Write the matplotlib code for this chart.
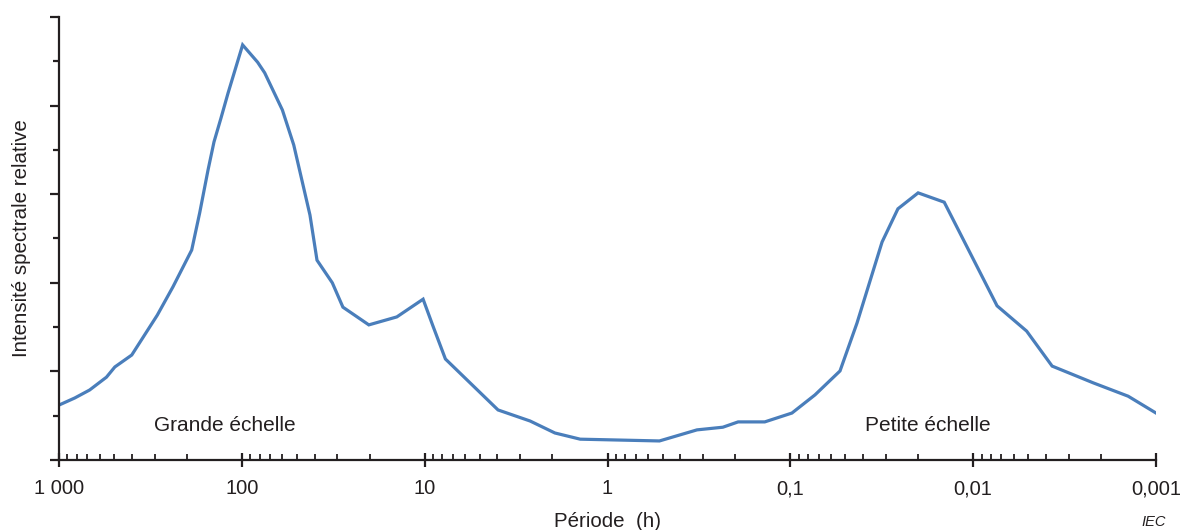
import numpy as np
import matplotlib
matplotlib.use('Agg')
import matplotlib.pyplot as plt
from matplotlib.ticker import FixedLocator, FixedFormatter, LogLocator, NullFormatter, MultipleLocator

plt.rcParams['font.family'] = ['Liberation Sans', 'DejaVu Sans']

# period (h) and relative spectral intensity
period = [1000, 820, 680, 550, 495, 400, 290, 238, 188, 170, 153, 142, 130, 119,
          99, 82, 75, 60, 52, 42.4, 38.8, 32, 28, 20.2, 14.2, 10.2, 9.0, 7.7,
          3.97, 2.65, 1.94, 1.41, 0.52, 0.324, 0.234, 0.193, 0.138, 0.098,
          0.0733, 0.0535, 0.0432, 0.0315, 0.0258, 0.0200, 0.0144, 0.0074,
          0.0051, 0.0037, 0.0022, 0.00142, 0.001]
intensity = [1.24, 1.40, 1.58, 1.87, 2.10, 2.37, 3.27, 3.91, 4.74, 5.58, 6.55, 7.18, 7.72, 8.28,
             9.37, 8.98, 8.74, 7.90, 7.11, 5.53, 4.51, 4.00, 3.45, 3.05, 3.23, 3.63, 3.02, 2.28,
             1.13, 0.88, 0.61, 0.47, 0.43, 0.68, 0.74, 0.86, 0.86, 1.06,
             1.47, 2.01, 3.09, 4.92, 5.67, 6.03, 5.82, 3.48,
             2.91, 2.12, 1.74, 1.44, 1.06]

tick_vals = [1000, 100, 10, 1, 0.1, 0.01, 0.001]
tick_labels = ['1 000', '100', '10', '1', '0,1', '0,01', '0,001']

ink = '#231f20'
blue = '#4a7ebb'

fig = plt.figure(figsize=(11.82, 5.30), dpi=100)
ax = fig.add_axes([59/1182, 70/530, (1156-59)/1182, (460-17)/530])

ax.plot(period, intensity, color=blue, lw=2.3, solid_joinstyle='miter')

ax.set_xscale('log')
ax.set_xlim(1000, 0.001)
ax.set_ylim(0, 10)

ax.xaxis.set_major_locator(FixedLocator(tick_vals))
ax.xaxis.set_major_formatter(FixedFormatter(tick_labels))
ax.xaxis.set_minor_locator(LogLocator(base=10, subs=np.arange(2, 10), numticks=20))
ax.xaxis.set_minor_formatter(NullFormatter())
ax.yaxis.set_major_locator(MultipleLocator(2))
ax.yaxis.set_minor_locator(MultipleLocator(1))
ax.set_yticklabels([])

for s in ['top', 'right']:
    ax.spines[s].set_visible(False)
for s in ['left', 'bottom']:
    ax.spines[s].set_color(ink)
    ax.spines[s].set_linewidth(1.6)

ax.tick_params(axis='x', which='major', direction='inout', length=9.5, width=1.6,
               color=ink, labelsize=14.5, labelcolor=ink, pad=9)
ax.tick_params(axis='x', which='minor', direction='in', length=4.3, width=1.3, color=ink)
ax.tick_params(axis='y', which='major', direction='out', length=6.5, width=1.6, color=ink)
ax.tick_params(axis='y', which='minor', direction='out', length=4.3, width=1.6, color=ink)

ax.set_xlabel('Période  (h)', fontsize=14.8, color=ink, labelpad=10)
ax.set_ylabel('Intensité spectrale relative', fontsize=14.8, color=ink, labelpad=10)

ax.text(124, 0.79, 'Grande échelle', fontsize=15, color=ink, ha='center', va='center')
ax.text(0.0177, 0.79, 'Petite échelle', fontsize=15, color=ink, ha='center', va='center')

fig.text(1166/1182, 1/530, 'IEC', fontsize=10.5, style='italic', color=ink, ha='right', va='bottom')

fig.savefig('out.png', dpi=100)
